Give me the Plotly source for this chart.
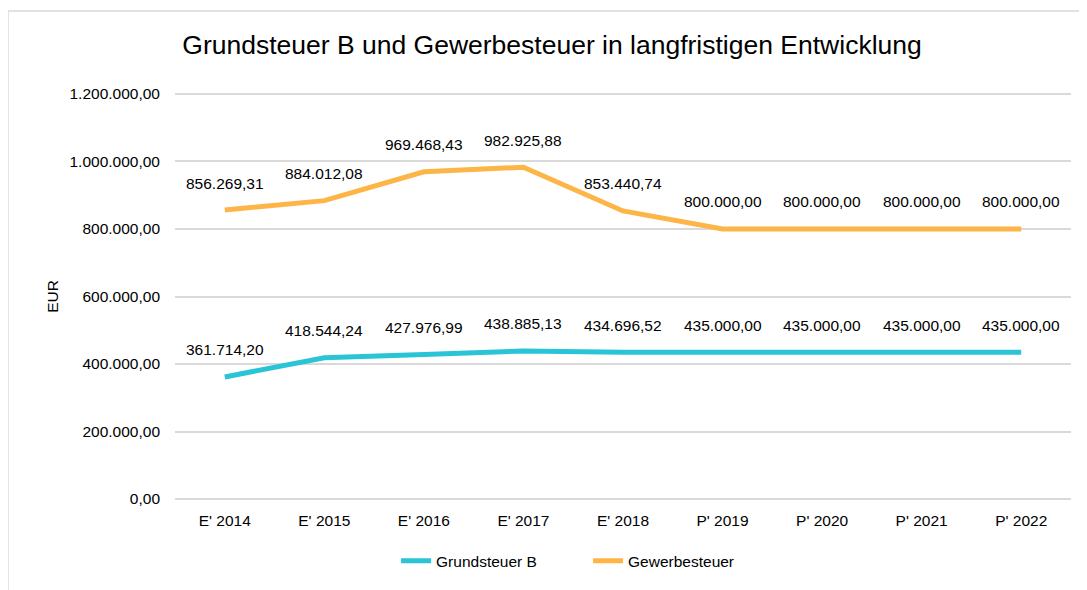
import plotly.graph_objects as go

categories = ["E' 2014", "E' 2015", "E' 2016", "E' 2017", "E' 2018",
              "P' 2019", "P' 2020", "P' 2021", "P' 2022"]
grundsteuer_b = [361714.20, 418544.24, 427976.99, 438885.13, 434696.52,
                 435000.00, 435000.00, 435000.00, 435000.00]
gewerbesteuer = [856269.31, 884012.08, 969468.43, 982925.88, 853440.74,
                 800000.00, 800000.00, 800000.00, 800000.00]
series_names = ["Grundsteuer B", "Gewerbesteuer"]
title_text = "Grundsteuer B und Gewerbesteuer in langfristigen Entwicklung"
y_title = "EUR"
y_max = 1200000
y_step = 200000

FONT = "Liberation Sans, Arial, sans-serif"
CYAN = "#29C5D7"
ORANGE = "#FEB548"
GRID = "#D9D9D9"

# page is rendered with an 8px body margin
W, H = 1079, 582
PAD = y_max / 410 * 2  # 2px of headroom so edge gridlines are drawn


def de_fmt(v):
    s = f"{v:,.2f}"
    return s.replace(",", "X").replace(".", ",").replace("X", ".")


fig = go.Figure()
for name, vals, col in [(series_names[0], grundsteuer_b, CYAN),
                        (series_names[1], gewerbesteuer, ORANGE)]:
    fig.add_trace(go.Scatter(x=categories, y=vals, name=name, mode="lines",
                             line=dict(color=col, width=5)))
    for c, v in zip(categories, vals):
        fig.add_annotation(x=c, y=v, text=de_fmt(v), showarrow=False,
                           xanchor="center", yanchor="middle",
                           yshift=27, font=dict(size=15.5, color="#000000", family=FONT))

fig.add_annotation(xref="paper", yref="paper", x=-0.137, y=0.5, text=y_title,
                   textangle=-90, showarrow=False, xanchor="center", yanchor="middle",
                   font=dict(size=15.5, color="#000000", family=FONT))

fig.add_shape(type="rect", xref="paper", yref="paper",
              x0=-0.1864, x1=1.2, y0=-0.4, y1=1.198,
              line=dict(color="#D9D9D9", width=1.5), layer="below")

fig.update_layout(
    width=W, height=H,
    margin=dict(l=167, r=16, t=84, b=84),
    paper_bgcolor="white", plot_bgcolor="white",
    separators=",.",
    font=dict(family=FONT, size=15.5, color="#000000"),
    title=dict(text=title_text, x=544 / W, xanchor="center", xref="container",
               y=1 - 37 / H, yanchor="middle", yref="container",
               font=dict(size=26.5, color="#000000", family=FONT)),
    showlegend=True,
    legend=dict(orientation="h", x=0.461, xanchor="center", y=-0.1473, yanchor="middle",
                entrywidth=147, entrywidthmode="pixels",
                font=dict(size=15.5, color="#000000", family=FONT),
                bgcolor="rgba(0,0,0,0)"),
    xaxis=dict(type="category", range=[-0.5, 8.5], showgrid=False, zeroline=False,
               showline=False, ticks="", ticklabelstandoff=8,
               tickfont=dict(size=15.5, color="#000000")),
    yaxis=dict(range=[-PAD, y_max + PAD], dtick=y_step, tick0=0, tickformat=",.2f",
               showgrid=True, gridcolor=GRID, gridwidth=1.5, zeroline=False,
               showline=False, ticks="", ticklabelstandoff=14,
               tickfont=dict(size=15.5, color="#000000")),
)

fig.write_html("out.html")
